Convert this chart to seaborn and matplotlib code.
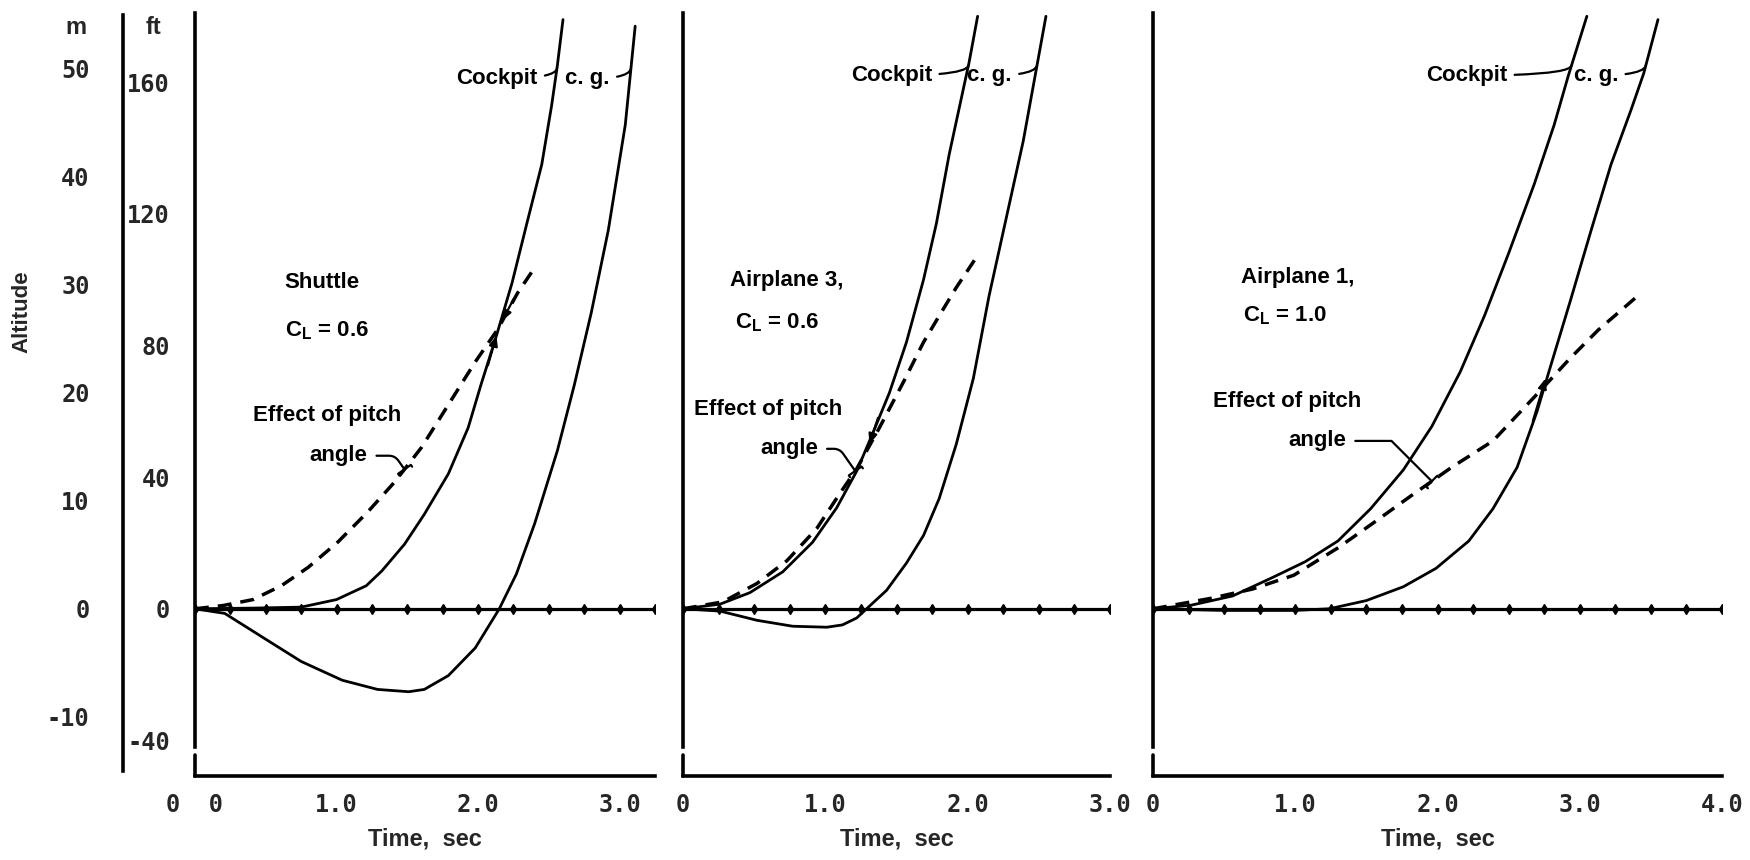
import numpy as np
import pandas as pd
import matplotlib
matplotlib.use("Agg")
import matplotlib.pyplot as plt
import seaborn as sns

# ALTITUDE TIME HISTORIES (time in sec, altitude in ft)
# Shuttle, CL = 0.6
shuttle_cockpit_t = [0, 0.4, 0.75, 1.0, 1.21, 1.32, 1.48, 1.62, 1.79, 1.93, 2.02, 2.13, 2.24, 2.35, 2.45, 2.52, 2.56, 2.60]
shuttle_cockpit_h = [0, 0.2, 0.5, 2.8, 7.0, 11.5, 19.6, 28.7, 41, 55, 68, 83, 99, 118, 135, 153, 165, 179]
shuttle_cg_t = [0, 0.21, 0.52, 0.75, 1.04, 1.29, 1.51, 1.62, 1.79, 1.98, 2.15, 2.27, 2.40, 2.56, 2.68, 2.80, 2.92, 3.04, 3.11]
shuttle_cg_h = [0, -1.4, -9.8, -16, -21.7, -24.5, -25.2, -24.5, -20.3, -11.9, 0, 10.5, 25.9, 48, 68, 90, 115, 147, 177]
shuttle_pitch_t = [0, 0.2, 0.41, 0.61, 0.80, 1.01, 1.22, 1.41, 1.60, 1.79, 1.98, 2.14, 2.28, 2.39]
shuttle_pitch_h = [0, 1.0, 2.8, 7, 12.6, 20.3, 29.4, 38.5, 49, 62, 75, 85, 96, 103]

# Airplane 3, CL = 0.6
a3_cockpit_t = [0, 0.26, 0.47, 0.70, 0.91, 1.08, 1.22, 1.33, 1.45, 1.57, 1.69, 1.78, 1.87, 1.96, 2.01, 2.07]
a3_cockpit_h = [0, 1.4, 4.9, 11.2, 20.2, 30.7, 41.8, 53, 65.6, 81, 100, 117, 138, 156, 166, 180]
a3_cg_t = [0, 0.26, 0.52, 0.77, 1.01, 1.12, 1.22, 1.29, 1.43, 1.57, 1.69, 1.80, 1.92, 2.04, 2.15, 2.27, 2.39, 2.47, 2.55]
a3_cg_h = [0, -0.7, -3.5, -5.3, -5.6, -4.9, -2.8, 0, 5.6, 13.9, 22.3, 33.5, 50, 70, 95, 118.5, 142, 161, 180]
a3_pitch_t = [0, 0.28, 0.52, 0.73, 0.94, 1.10, 1.22, 1.38, 1.55, 1.69, 1.80, 1.92, 2.08]
a3_pitch_h = [0, 2.1, 7.7, 14.6, 24.4, 34.9, 42.5, 55, 69, 81, 89, 97.6, 108]

# Airplane 1, CL = 1.0
a1_cockpit_t = [0, 0.27, 0.56, 0.84, 1.07, 1.30, 1.53, 1.76, 1.96, 2.16, 2.33, 2.50, 2.68, 2.82, 2.92, 3.05]
a1_cockpit_h = [0, 1.1, 3.9, 9.5, 14.3, 20.6, 30.4, 42.2, 55.4, 72, 89, 108, 129, 147, 162, 180]
a1_cg_t = [0, 0.50, 0.99, 1.24, 1.50, 1.76, 1.99, 2.22, 2.39, 2.56, 2.70, 2.79, 2.93, 3.08, 3.22, 3.36, 3.45, 3.55]
a1_cg_h = [0, -0.5, -0.5, 0, 2.5, 6.7, 12.3, 20.6, 30.4, 43, 60, 73, 93, 115, 135, 151.5, 162.7, 179]
a1_pitch_t = [0, 0.41, 0.70, 0.99, 1.30, 1.53, 1.82, 2.10, 2.39, 2.73, 2.93, 3.13, 3.39]
a1_pitch_h = [0, 3.2, 6, 10.2, 18.5, 25.5, 34.5, 43, 51, 66.6, 76, 84.7, 94.4]

# FIGURE SETUP
sns.set_style("white")
plt.rcParams['font.family'] = ['Liberation Sans', 'DejaVu Sans']
plt.rcParams['mathtext.default'] = 'regular'
plt.rcParams['axes.edgecolor'] = 'black'

W, H = 1750, 860
Y_BOT, Y_TOP = 776, 13
YLIM = (-50.8, 181.0)
M_PER_FT = 0.3048
MONO = ['DejaVu Sans Mono']
TXT = dict(fontsize=16, fontweight='bold', color='black')

fig = plt.figure(figsize=(W / 100, H / 100), dpi=100)


def px_axes(x0, x1):
    return fig.add_axes([x0 / W, 1 - Y_BOT / H, (x1 - x0) / W, (Y_BOT - Y_TOP) / H])


def t_at(h_target, t, h):
    # time where the rising part of a curve reaches h_target
    i = int(np.argmin(h))
    return float(np.interp(h_target, h[i:], t[i:]))


panels = [
    dict(left=195, right=655, tmax=3.25, zero_label='0  0',
         cockpit=(shuttle_cockpit_t, shuttle_cockpit_h), cg=(shuttle_cg_t, shuttle_cg_h),
         pitch=(shuttle_pitch_t, shuttle_pitch_h),
         title='Shuttle', title_xy=(0.90, 99), cl='0.6', cl_xy=(0.93, 84.5),
         effect_xy=(0.93, 58.7), angle_xy=(1.22, 46.5), angle_t=1.48, angle_cs='angle,angleA=0,angleB=125,rad=6',
         cockpit_xy=(2.42, 161), cg_xy=(2.93, 161),
         arrows=[((2.25, 94), (2.17, 87.5)), ((2.07, 74), (2.13, 83))]),
    dict(left=683, right=1110, tmax=3.0, zero_label='0',
         cockpit=(a3_cockpit_t, a3_cockpit_h), cg=(a3_cg_t, a3_cg_h),
         pitch=(a3_pitch_t, a3_pitch_h),
         title='Airplane 3,', title_xy=(0.73, 99.7), cl='0.6', cl_xy=(0.66, 87),
         effect_xy=(0.60, 60.5), angle_xy=(0.95, 48.6), angle_t=1.21, angle_cs='angle,angleA=0,angleB=125,rad=6',
         cockpit_xy=(1.75, 162), cg_xy=(2.31, 162),
         arrows=[((1.37, 58), (1.31, 50))]),
    dict(left=1153, right=1722, tmax=4.0, zero_label='0',
         cockpit=(a1_cockpit_t, a1_cockpit_h), cg=(a1_cg_t, a1_cg_h),
         pitch=(a1_pitch_t, a1_pitch_h),
         title='Airplane 1,', title_xy=(1.02, 100.6), cl='1.0', cl_xy=(0.93, 89),
         effect_xy=(0.94, 63), angle_xy=(1.36, 51), angle_t=1.96, angle_cs='angle,angleA=0,angleB=135,rad=0',
         cockpit_xy=(2.49, 162), cg_xy=(3.27, 162),
         arrows=[((2.67, 57), (2.76, 70))]),
]

for k, p in enumerate(panels):
    ax = px_axes(p['left'], p['right'])
    tmax = p['tmax']

    frames = []
    for name in ('cockpit', 'cg', 'pitch'):
        t, h = p[name]
        frames.append(pd.DataFrame({'time': t, 'altitude': h, 'curve': name}))
    df = pd.concat(frames, ignore_index=True)

    sns.lineplot(data=df, x='time', y='altitude', hue='curve', style='curve', size='curve',
                 palette={'cockpit': 'black', 'cg': 'black', 'pitch': 'black'},
                 dashes={'cockpit': '', 'cg': '', 'pitch': (4, 2.6)},
                 sizes={'cockpit': 2.0, 'cg': 2.0, 'pitch': 2.5},
                 estimator=None, sort=False, legend=False, ax=ax)

    # zero altitude reference line with its marks
    marks = np.arange(0, tmax + 1e-9, 0.25)
    ax.plot([0, tmax], [0, 0], color='black', lw=2.3, zorder=1)
    ax.plot(marks, np.zeros_like(marks), ls='none', marker='d', ms=5, color='black')

    ax.set_xlim(0, tmax)
    ax.set_ylim(*YLIM)
    sns.despine(ax=ax)
    ax.spines['left'].set_bounds(-42, YLIM[1])
    ax.spines['left'].set_linewidth(2.6)
    ax.spines['bottom'].set_linewidth(2.6)
    ax.plot([0, 0], [YLIM[0], -44.5], color='black', lw=2.6, clip_on=False)

    xlabels = []
    for v in marks:
        if v == 0:
            xlabels.append(p['zero_label'])
        elif abs(v - round(v)) < 1e-9:
            xlabels.append(f'{v:.1f}')
        else:
            xlabels.append('')
    ax.set_xticks(marks)
    ax.set_xticklabels(xlabels)
    yt = np.arange(-40, 181, 20)
    ax.set_yticks(yt)
    if k == 0:
        ax.set_yticklabels([f'{v:d}' if v % 40 == 0 else '' for v in yt])
    else:
        ax.set_yticklabels(['' for v in yt])
    ax.tick_params(direction='inout', length=8, width=2.2, color='black', labelsize=17)
    ax.tick_params(axis='x', pad=8)
    ax.tick_params(axis='y', pad=14)
    for lbl in ax.get_xticklabels() + ax.get_yticklabels():
        lbl.set_fontfamily(MONO)
        lbl.set_fontweight('bold')
    ax.set_xlabel('Time,  sec', fontsize=17, fontweight='bold', labelpad=8)
    ax.set_ylabel('')

    # annotations
    ax.text(*p['title_xy'], p['title'], ha='center', va='center', **TXT)
    ax.text(*p['cl_xy'], r'$C_L$ = ' + p['cl'], ha='center', va='center', **TXT)
    ax.text(*p['effect_xy'], 'Effect of pitch', ha='center', va='center', **TXT)
    pt, ph = np.array(p['pitch'][0]), np.array(p['pitch'][1])
    at = p['angle_t']
    ax.annotate('angle', xy=(at, np.interp(at, pt, ph)), xytext=p['angle_xy'],
                ha='right', va='center',
                arrowprops=dict(arrowstyle='-[, widthB=0.35, lengthB=0.1', lw=1.6, color='black',
                                connectionstyle=p['angle_cs'], shrinkA=4, shrinkB=0),
                **TXT)
    for name, label in (('cockpit', 'Cockpit'), ('cg', 'c. g.')):
        ct, ch = np.array(p[name][0]), np.array(p[name][1])
        tx, ty = p[name + '_xy']
        target = (t_at(ty + 3, ct, ch), ty + 3)
        ax.annotate(label, xy=target, xytext=(tx, ty), ha='right', va='center',
                    arrowprops=dict(arrowstyle='-', lw=1.6, color='black',
                                    connectionstyle='angle3,angleA=0,angleB=75', shrinkA=3, shrinkB=0),
                    **TXT)
    for start, tip in p['arrows']:
        ax.annotate('', xy=tip, xytext=start,
                    arrowprops=dict(arrowstyle='-|>, head_width=0.25, head_length=0.6',
                                    lw=1.6, color='black', shrinkA=0, shrinkB=0))

# meter scale on the far left
axm = fig.add_axes([123 / W, 1 - Y_BOT / H, 0.0001, (Y_BOT - Y_TOP) / H])
axm.set_ylim(YLIM[0] * M_PER_FT, YLIM[1] * M_PER_FT)
axm.patch.set_alpha(0)
for s in ('top', 'right', 'bottom'):
    axm.spines[s].set_visible(False)
axm.spines['left'].set_bounds(-15, 55)
axm.spines['left'].set_linewidth(2.6)
axm.set_xticks([])
mt = np.arange(-15, 56, 5)
axm.set_yticks(mt)
axm.set_yticklabels([f'{v:d}' if v % 10 == 0 else '' for v in mt])
axm.tick_params(direction='inout', length=8, width=2.2, color='black', labelsize=17, pad=20)
for lbl in axm.get_yticklabels():
    lbl.set_fontfamily(MONO)
    lbl.set_fontweight('bold')

fig.text(76 / W, 1 - 27 / H, 'm', ha='center', va='center', fontsize=17, fontweight='bold')
fig.text(153 / W, 1 - 27 / H, 'ft', ha='center', va='center', fontsize=17, fontweight='bold')
fig.text(22 / W, 1 - 312 / H, 'Altitude', rotation=90, ha='center', va='center', fontsize=16, fontweight='bold')

fig.savefig('out.png', dpi=100, facecolor='white')
